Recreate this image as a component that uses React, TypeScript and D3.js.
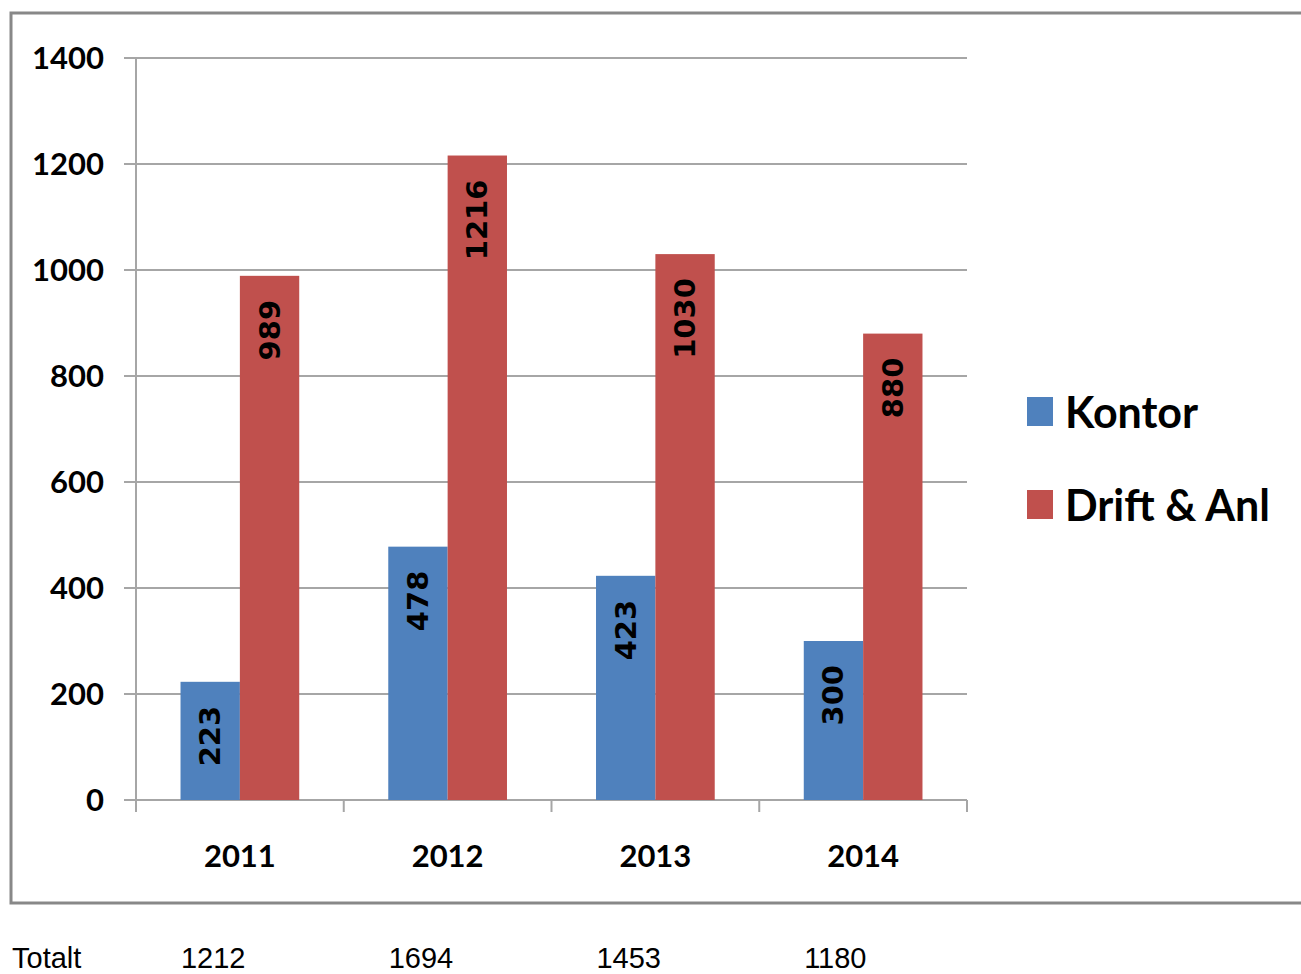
import React from "react";
import * as d3 from "d3";

const years = ["2011", "2012", "2013", "2014"];
const kontor = [223, 478, 423, 300];
const drift = [989, 1216, 1030, 880];
const totals = [1212, 1694, 1453, 1180];
const yTicks = [0, 200, 400, 600, 800, 1000, 1200, 1400];
const seriesNames = ["Kontor", "Drift & Anl"];
const seriesColors = ["#4f81bd", "#c0504d"];

const W = 1301;
const H = 974;
const plot = { left: 136, right: 967, top: 58, bottom: 800 };

export default function App() {
  const x = d3.scaleBand<string>().domain(years).range([plot.left, plot.right]);
  const y = d3.scaleLinear().domain([0, 1400]).range([plot.bottom, plot.top]);
  const barW = x.bandwidth() / 3.5;
  const gridColor = "#a6a6a6";
  const tickFont = "Lato, 'Open Sans', sans-serif";
  const labelFont = "'DejaVu Sans', sans-serif";

  return (
    <svg
      width={W}
      height={H}
      style={{ position: "absolute", left: 0, top: 0, display: "block", background: "#fff" }}
    >
      <rect x={11} y={13} width={1300} height={890} fill="#fff" stroke="#888" strokeWidth={3} />

      {yTicks.map((t) => (
        <g key={t}>
          <line x1={plot.left - 12} x2={plot.right} y1={y(t)} y2={y(t)} stroke={gridColor} strokeWidth={2} />
          <text
            x={104}
            y={y(t) + 11}
            textAnchor="end"
            fontFamily={tickFont}
            fontWeight={700}
            fontSize={31}
            fill="#000"
          >
            {t}
          </text>
        </g>
      ))}

      <line x1={plot.left} x2={plot.left} y1={plot.top} y2={plot.bottom + 12} stroke={gridColor} strokeWidth={2} />
      {years.map((yr) => (
        <line
          key={"t" + yr}
          x1={(x(yr) as number) + x.bandwidth()}
          x2={(x(yr) as number) + x.bandwidth()}
          y1={plot.bottom}
          y2={plot.bottom + 12}
          stroke={gridColor}
          strokeWidth={2}
        />
      ))}

      {years.map((yr, i) => {
        const c = (x(yr) as number) + x.bandwidth() / 2;
        const vals = [kontor[i], drift[i]];
        return (
          <g key={yr}>
            {vals.map((v, s) => {
              const bx = c - barW + s * barW;
              const top = y(v);
              const cx = bx + barW / 2;
              const ly = top + 24;
              return (
                <g key={s}>
                  <rect x={bx} y={top} width={barW} height={plot.bottom - top} fill={seriesColors[s]} />
                  <text
                    transform={`translate(${cx},${ly}) rotate(-90)`}
                    textAnchor="end"
                    dominantBaseline="central"
                    fontFamily={labelFont}
                    fontWeight={700}
                    fontSize={29}
                    fill="#000"
                  >
                    {v}
                  </text>
                </g>
              );
            })}
            <text
              x={c}
              y={867}
              textAnchor="middle"
              fontFamily={tickFont}
              fontWeight={700}
              fontSize={31}
              fill="#000"
            >
              {yr}
            </text>
          </g>
        );
      })}

      {seriesNames.map((n, s) => (
        <g key={n}>
          <rect x={1027} y={397 + s * 93} width={26} height={29} fill={seriesColors[s]} />
          <text x={1065} y={428 + s * 93} fontFamily={tickFont} fontWeight={700} fontSize={43} fill="#000">
            {n}
          </text>
        </g>
      ))}

      <text x={12} y={968} fontFamily="'Liberation Sans', Arial, sans-serif" fontSize={29} fill="#000">
        Totalt
      </text>
      {years.map((yr, i) => (
        <text
          key={"tot" + yr}
          x={(x(yr) as number) + x.bandwidth() / 2 - 59}
          y={968}
          fontFamily="'Liberation Sans', Arial, sans-serif"
          fontSize={29}
          fill="#000"
        >
          {totals[i]}
        </text>
      ))}
    </svg>
  );
}
